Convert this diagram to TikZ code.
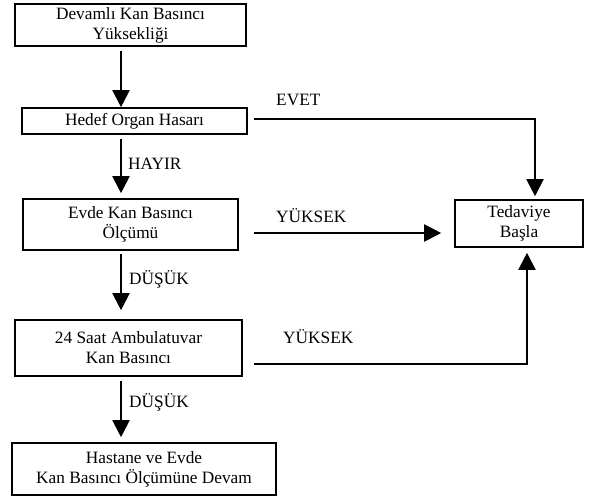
\documentclass[tikz,border=0pt]{standalone}
\usepackage{fontspec}
\setmainfont{Liberation Serif}
\usetikzlibrary{arrows.meta}
\tikzset{
  box/.style={draw, line width=1.6pt, inner sep=0pt, align=center, font=\fontsize{17.3}{20}\selectfont},
  arr/.style={line width=2pt, -{Triangle[length=17pt,width=17pt]}},
  lbl/.style={inner sep=0pt, font=\fontsize{17.3}{20}\selectfont}
}
\begin{document}
\begin{tikzpicture}[x=1pt,y=-1pt]
\useasboundingbox (0,0) rectangle (591,497);
\node[box, minimum width=231pt, minimum height=42pt] (b1) at (130.5,25) {Devamlı Kan Basıncı\\Yüksekliği};
\node[box, minimum width=225pt, minimum height=26pt] (b2) at (134.5,121) {Hedef Organ Hasarı};
\node[box, minimum width=215pt, minimum height=51pt] (b3) at (130.5,224.5) {Evde Kan Basıncı\\Ölçümü};
\node[box, minimum width=227pt, minimum height=56pt] (b4) at (128.5,348) {24 Saat Ambulatuvar\\Kan Basıncı};
\node[box, minimum width=264pt, minimum height=52pt] (b5) at (144,469) {Hastane ve Evde\\Kan Basıncı Ölçümüne Devam};
\node[box, minimum width=128pt, minimum height=47pt] (t) at (519,223.5) {Tedaviye\\Başla};
\coordinate (ax) at (121,0);
\draw[arr] ([yshift=-4pt]b1.south -| ax) -- (b2.north -| ax);
\draw[arr] ([yshift=-4pt]b2.south -| ax) -- ([yshift=5pt]b3.north -| ax);
\draw[arr] ([yshift=-3pt]b3.south -| ax) -- ([yshift=9pt]b4.north -| ax);
\draw[arr] ([yshift=-4pt]b4.south -| ax) -- ([yshift=5pt]b5.north -| ax);
\draw[arr] ([xshift=6pt,yshift=2pt]b2.east) -| ([xshift=16pt,yshift=3pt]t.north);
\coordinate (y1) at ([xshift=15pt,yshift=-8.5pt]b3.east);
\draw[arr] (y1) -- ([xshift=-13pt]t.west |- y1);
\draw[arr] ([xshift=11pt,yshift=-16pt]b4.east) -| ([xshift=8pt,yshift=-5pt]t.south);
\node[lbl, anchor=base west] (l1) at (276,106) {EVET};
\node[lbl, anchor=base west] (l2) at (276,222) {YÜKSEK};
\node[lbl, anchor=base west] (l3) at (283,343) {YÜKSEK};
\node[lbl, anchor=base west] (l4) at (128,170) {HAYIR};
\node[lbl, anchor=base west] (l5) at (129,284) {DÜŞÜK};
\node[lbl, anchor=base west] (l6) at (129,407) {DÜŞÜK};
\end{tikzpicture}
\end{document}
